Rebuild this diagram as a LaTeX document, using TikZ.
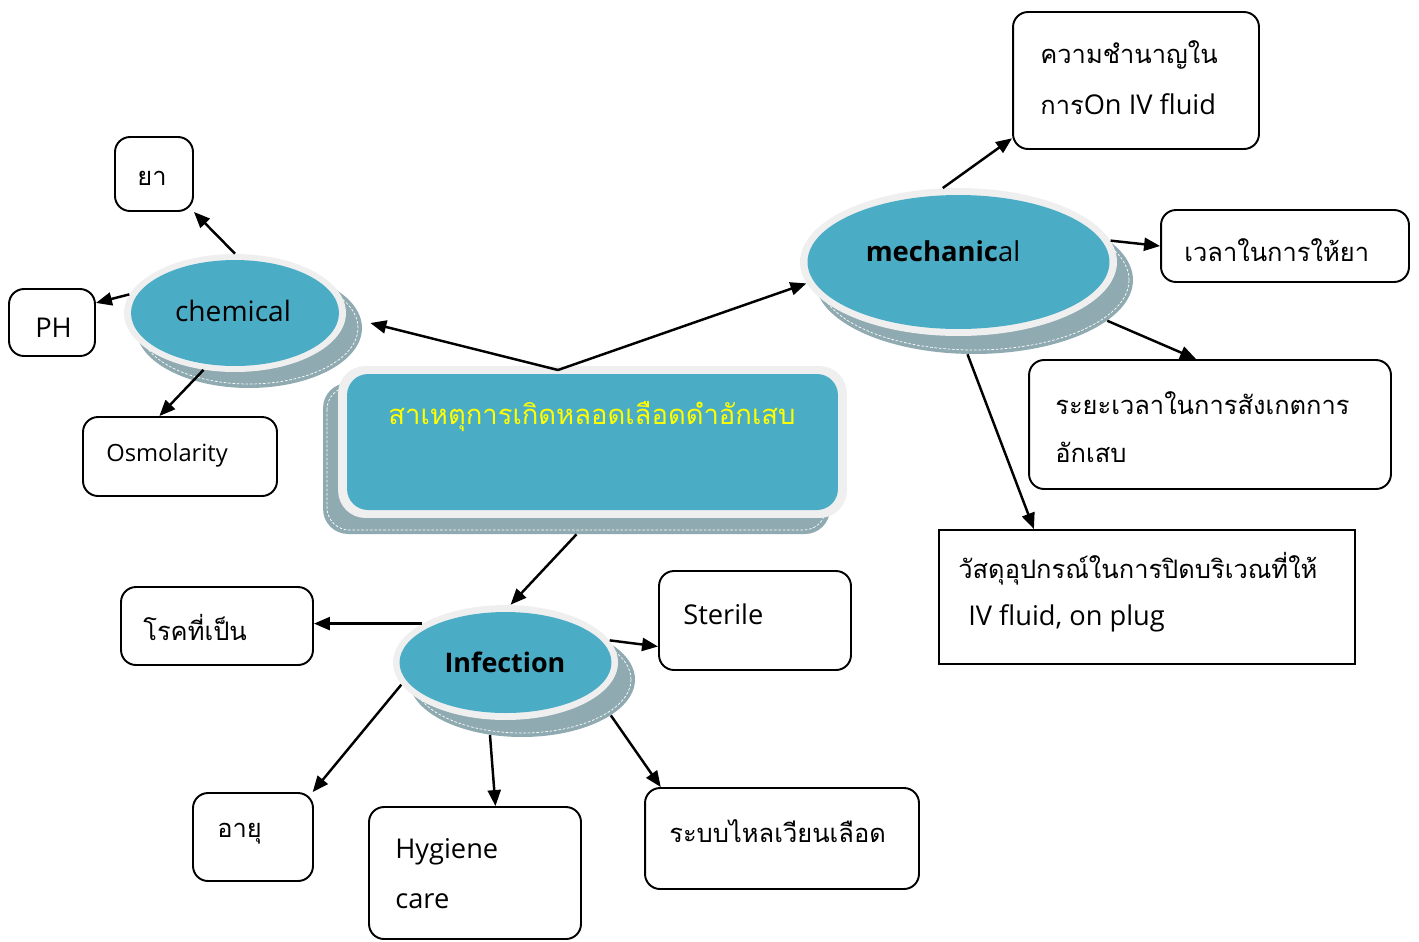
\documentclass[tikz,border=0pt]{standalone}
\usepackage{fontspec}
\setmainfont{Open Sans}
\newfontfamily\thaifont[Script=Thai]{Loma}
\usetikzlibrary{shapes.geometric,arrows.meta,calc}
\definecolor{ringc}{HTML}{EFEFEF}
\definecolor{bluec}{HTML}{4BACC6}
\definecolor{shadc}{HTML}{8FAAB1}
\definecolor{yel}{HTML}{FFFF00}
\newcommand{\thtxt}[1]{{\thaifont\fontsize{14.5}{28}\selectfont #1}}
\tikzset{
  box/.style={draw, line width=1.1pt, rounded corners=0.3cm, inner sep=0pt},
  sqbox/.style={draw, line width=1.1pt, inner sep=0pt},
  arr/.style={-{Triangle[length=0.32cm,width=0.26cm]}, line width=1.4pt},
  txt/.style={anchor=west, inner sep=0pt, font=\fontsize{15.5}{28}\selectfont, align=left},
  etxt/.style={inner sep=0pt, font=\fontsize{16}{20}\selectfont},
  ring/.style={ellipse, fill=ringc, inner sep=0pt},
  inner/.style={ellipse, fill=bluec, inner sep=0pt},
  shad/.style={ellipse, fill=shadc, inner sep=0pt},
  sdash/.style={draw=white, dash pattern=on 1.5pt off 1pt, line width=0.4pt},
}
\begin{document}
\begin{tikzpicture}[x=0.02cm,y=-0.02cm]
\useasboundingbox (0,0) rectangle (1419,941);

% ---------- central box ----------
\node[fill=shadc, rounded corners=0.5cm, minimum width=10.14cm, minimum height=3.02cm, inner sep=0pt] (centsh) at (576.5,458.5) {};
\draw[sdash, rounded corners=0.45cm] (327,387) rectangle (826,530);
\node[fill=ringc, rounded corners=0.55cm, minimum width=10.18cm, minimum height=3.04cm, inner sep=0pt] (cent) at (592.5,442) {};
\node[fill=bluec, rounded corners=0.42cm, minimum width=9.82cm, minimum height=2.72cm, inner sep=0pt] (centin) at (592.5,442) {};
\node[inner sep=0pt, text=yel, font=\thaifont\fontsize{15.6}{20}\selectfont] (centtxt) at (592,417) {สาเหตุการเกิดหลอดเลือดดำอักเสบ};

% ---------- chemical ellipse ----------
\node[shad, minimum width=4.52cm, minimum height=2.40cm] (chemsh) at (249,328) {};
\node[ellipse, sdash, minimum width=4.36cm, minimum height=2.24cm, inner sep=0pt] (chemshd) at (249,328) {};
\node[ring, minimum width=4.44cm, minimum height=2.36cm] (chem) at (235,313) {};
\node[inner, minimum width=4.16cm, minimum height=2.12cm] (chemin) at (235,313) {};
\node[etxt] (chemtxt) at (233,311) {chemical};

% ---------- mechanical ellipse ----------
\node[shad, minimum width=6.36cm, minimum height=2.96cm] (mechsh) at (974,280) {};
\node[ellipse, sdash, minimum width=6.20cm, minimum height=2.80cm, inner sep=0pt] (mechshd) at (974,280) {};
\node[ring, minimum width=6.34cm, minimum height=2.96cm] (mech) at (958.5,262) {};
\node[inner, minimum width=6.04cm, minimum height=2.68cm] (mechin) at (958.5,262) {};
\node[etxt, font=\fontsize{15.6}{20}\selectfont] (mechtxt) at (943,251) {\textbf{mechanic}al};

% ---------- Infection ellipse ----------
\node[shad, minimum width=4.52cm, minimum height=2.30cm] (infsh) at (522,679.5) {};
\node[ellipse, sdash, minimum width=4.36cm, minimum height=2.14cm, inner sep=0pt] (infshd) at (522,679.5) {};
\node[ring, minimum width=4.50cm, minimum height=2.30cm] (inf) at (505.5,662.5) {};
\node[inner, minimum width=4.24cm, minimum height=2.02cm] (infin) at (505.5,662.5) {};
\node[etxt, font=\fontsize{15.3}{20}\selectfont\bfseries] (inftxt) at (505,662) {Infection};

% ---------- boxes ----------
\node[box, minimum width=1.56cm, minimum height=1.48cm] (ya) at (154,174) {};
\node[txt] at (137,178) {\thtxt{ยา}};
\node[box, minimum width=1.72cm, minimum height=1.34cm] (ph) at (52,322.5) {};
\node[txt] at (35,328) {PH};
\node[box, minimum width=3.88cm, minimum height=1.58cm] (osmo) at (180,456.5) {};
\node[txt, font=\fontsize{13.5}{28}\selectfont] at (106,455) {Osmolarity};

\node[box, minimum width=4.92cm, minimum height=2.74cm] (skill) at (1136,80.5) {};
\node[txt] at (1040,55) {\thtxt{ความชำนาญใน}};
\node[txt] at (1040,104) {\thtxt{การ}On IV fluid};
\node[box, minimum width=4.96cm, minimum height=1.44cm] (time) at (1285,246) {};
\node[txt] at (1184,250) {\thtxt{เวลาในการให้ยา}};
\node[box, minimum width=7.24cm, minimum height=2.58cm] (period) at (1210,424.5) {};
\node[txt] at (1055,403) {\thtxt{ระยะเวลาในการสังเกตการ}};
\node[txt] at (1055,452) {\thtxt{อักเสบ}};
\node[sqbox, minimum width=8.32cm, minimum height=2.68cm] (mat) at (1147,597) {};
\node[txt] at (958,569) {\thtxt{วัสดุอุปกรณ์ในการปิดบริเวณที่ให้}};
\node[txt] at (968,618) {IV fluid, on plug};

\node[box, minimum width=3.84cm, minimum height=1.56cm] (dis) at (217,626) {};
\node[txt] at (143,627) {\thtxt{โรคที่เป็น}};
\node[box, minimum width=3.84cm, minimum height=1.98cm] (ster) at (755,620.5) {};
\node[txt] at (683,614) {Sterile};
\node[box, minimum width=2.40cm, minimum height=1.76cm] (age) at (253,837) {};
\node[txt] at (217,834) {\thtxt{อายุ}};
\node[box, minimum width=4.24cm, minimum height=2.64cm] (hyg) at (475,873) {};
\node[txt] at (395,852) {Hygiene};
\node[txt] at (395,901) {care};
\node[box, minimum width=5.48cm, minimum height=2.02cm] (blood) at (782,838.5) {};
\node[txt] at (669,831) {\thtxt{ระบบไหลเวียนเลือด}};

% ---------- connectors ----------
\coordinate (apex) at (558,370);
\draw[arr] (chem.north) -- (ya.south east);
\draw[arr] (chem.170) -- (ph.24);
\draw[arr] (chem.241) -- (osmo.117);
\draw[arr] (apex) -- ($(chemsh.east)+(8,-5)$);
\draw[arr] (apex) -- (mech.188);
\draw[arr] (mech.102) -- (skill.205);
\draw[arr] (mech.8) -- (time.west);
\draw[arr] (mechsh.-17) -- (period.102);
\draw[arr] (mechsh.265) -- (mat.149);
\draw[arr] (centsh.south) -- (inf.85);
\draw[arr] (inf.155) -- (inf.155 -| dis.east);
\draw[arr] (inf.12) -- (ster.195);
\draw[arr] (inf.192) -- (age.37);
\draw[arr] (infsh.240) -- (hyg.73);
\draw[arr] (infsh.-22) -- (blood.157);
\end{tikzpicture}
\end{document}
